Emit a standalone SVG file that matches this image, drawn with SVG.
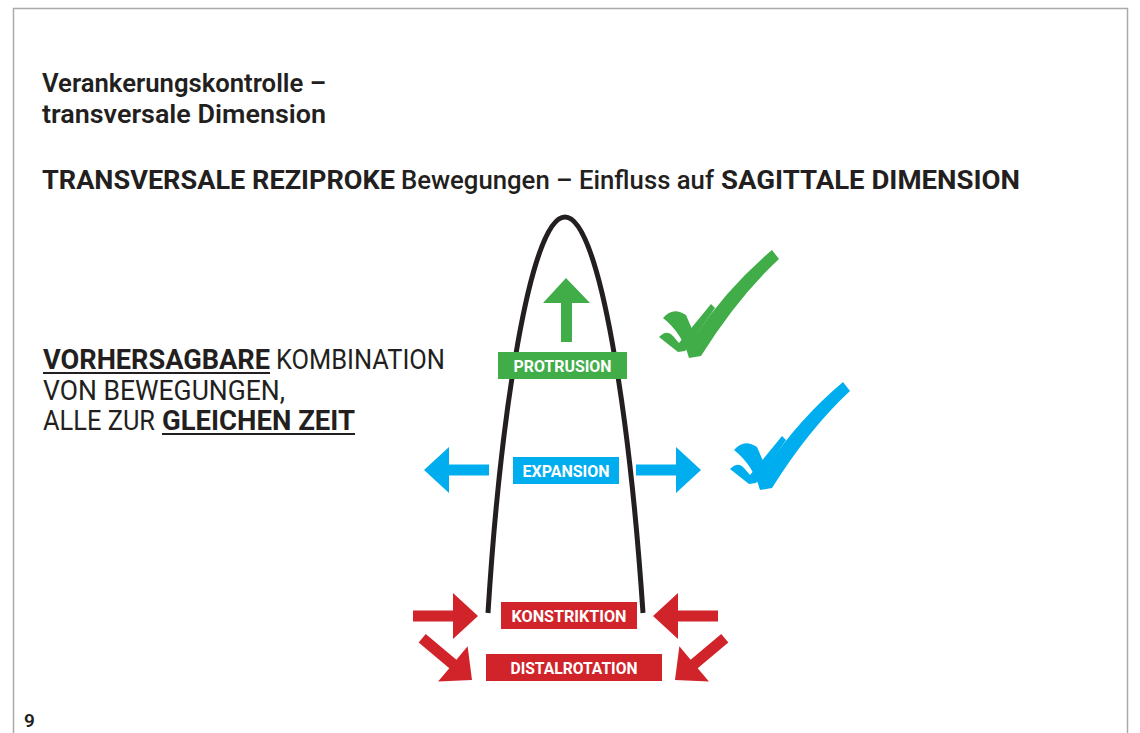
<svg xmlns="http://www.w3.org/2000/svg" width="1140" height="733" viewBox="0 0 1140 733">
<style>
.t{font-family:Roboto,"Liberation Sans",sans-serif;fill:#231f20}
.b{font-weight:700}
.lbl{font-family:Roboto,"Liberation Sans",sans-serif;font-weight:700;font-size:16px;fill:#fff;text-anchor:middle}
.g{fill:#41ad49}.bl{fill:#00aeef}.r{fill:#d1232a}
</style>
<defs>
<polygon id="arr" points="0,0 -25,-23 -25,-5.5 -65,-5.5 -65,5.5 -25,5.5 -25,23"/>
<g id="chk">
<path d="M663,318 Q673,306 686,315 L695,336 Q728,287 772,250 L779,259 Q738,297 701,356 L689,358 Q682,333 663,318 Z"/>
<path d="M659,337 Q667,329 673,336 L679,343 L711,304 L715,308 L685,351 L678,352 Z"/>
</g>
</defs>
<rect x="0" y="0" width="1140" height="733" fill="#fff"/>
<path d="M13.5,733 V8.5 H1127.5 V733" fill="none" stroke="#aaa" stroke-width="1.5"/>
<g id="title">
<text class="t" x="42" y="92" font-size="26" font-weight="600" textLength="284" lengthAdjust="spacingAndGlyphs">Verankerungskontrolle –</text>
<text class="t" x="42" y="123" font-size="26" font-weight="600" textLength="284" lengthAdjust="spacingAndGlyphs">transversale Dimension</text>
</g>
<g id="subtitle">
<text class="t b" x="42" y="189" font-size="26" textLength="353" lengthAdjust="spacingAndGlyphs">TRANSVERSALE REZIPROKE</text>
<text class="t" x="401" y="189" font-size="26" font-weight="500" textLength="313" lengthAdjust="spacingAndGlyphs">Bewegungen – Einfluss auf</text>
<text class="t b" x="721" y="189" font-size="26" textLength="299" lengthAdjust="spacingAndGlyphs">SAGITTALE DIMENSION</text>
</g>
<g id="statement">
<text class="t b" x="43" y="369" font-size="27" textLength="227" lengthAdjust="spacingAndGlyphs">VORHERSAGBARE</text>
<text class="t" x="276" y="369" font-size="27" textLength="169" lengthAdjust="spacingAndGlyphs">KOMBINATION</text>
<line x1="43" y1="373" x2="270" y2="373" stroke="#231f20" stroke-width="2"/>
<text class="t" x="43" y="400" font-size="27" textLength="242" lengthAdjust="spacingAndGlyphs">VON BEWEGUNGEN,</text>
<text class="t" x="43" y="430" font-size="27" textLength="112" lengthAdjust="spacingAndGlyphs">ALLE ZUR</text>
<text class="t b" x="162" y="430" font-size="27" textLength="193" lengthAdjust="spacingAndGlyphs">GLEICHEN ZEIT</text>
<line x1="162" y1="434" x2="355" y2="434" stroke="#231f20" stroke-width="2"/>
</g>
<g id="arch">
<path d="M488,613 C500,420 530,217 565,217 C600,217 630,420 643,613" fill="none" stroke="#231f20" stroke-width="5"/>
</g>
<g id="connectors">
<polygon class="g" points="566,278 590,303 572,303 572,342 561,342 561,303 543,303"/>
<use href="#arr" class="bl" transform="translate(424,470) rotate(180)"/>
<use href="#arr" class="bl" transform="translate(701,470)"/>
<use href="#arr" class="r" transform="translate(478,616)"/>
<use href="#arr" class="r" transform="translate(653,616) rotate(180)"/>
<use href="#arr" class="r" transform="translate(472,680) rotate(40)"/>
<use href="#arr" class="r" transform="translate(675,680) rotate(140)"/>
</g>
<g id="protrusion">
<rect class="g" x="498" y="352" width="129" height="27"/>
<text class="lbl" x="562.5" y="371.5" textLength="98" lengthAdjust="spacingAndGlyphs">PROTRUSION</text>
</g>
<g id="expansion">
<rect class="bl" x="513" y="457" width="106" height="27"/>
<text class="lbl" x="566" y="476.5" textLength="87" lengthAdjust="spacingAndGlyphs">EXPANSION</text>
</g>
<g id="konstriktion">
<rect class="r" x="501" y="602" width="136" height="27"/>
<text class="lbl" x="569" y="621.5" textLength="115" lengthAdjust="spacingAndGlyphs">KONSTRIKTION</text>
</g>
<g id="distalrotation">
<rect class="r" x="486" y="654" width="176" height="27"/>
<text class="lbl" x="574" y="673.5" textLength="127" lengthAdjust="spacingAndGlyphs">DISTALROTATION</text>
</g>
<g id="check-green" class="g"><use href="#chk"/></g>
<g id="check-blue" class="bl"><use href="#chk" transform="translate(71,132)"/></g>
<text class="t" x="24" y="727" font-size="19" font-weight="600" fill="#333">9</text>
</svg>
